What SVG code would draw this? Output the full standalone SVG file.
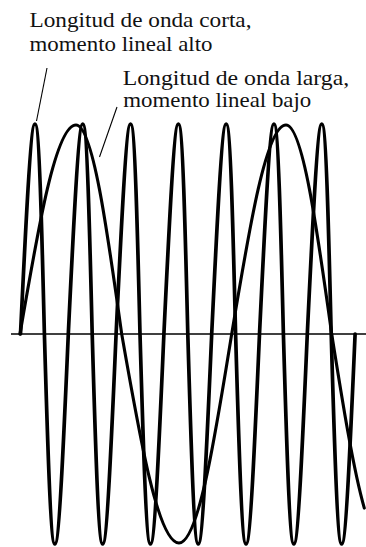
<svg xmlns="http://www.w3.org/2000/svg" width="366" height="547" viewBox="0 0 366 547">
<style>
.lbl{font-family:"Liberation Serif","Times New Roman",serif;font-size:21px;fill:#111}
.wave{fill:none;stroke:#000;stroke-linejoin:round;stroke-linecap:round}
.lead{fill:none;stroke:#000;stroke-width:1.1}
</style>
<rect width="366" height="547" fill="#fff"/>
<line id="axis" x1="11" y1="334" x2="366" y2="334" stroke="#000" stroke-width="1.3"/>
<g id="short-wave">
<path class="wave" stroke-width="3.7" d="M20.5,334
c5.18,-107.58 10.13,-210 14.45,-210 c4.33,0 6.83,102.42 9.45,210 c3.13,107.58 6.13,210 10.45,210 c4.33,0 8.79,-102.42 13.45,-210
c5.18,-107.58 10.13,-210 14.45,-210 c4.33,0 6.83,102.42 9.45,210 c3.13,107.58 6.13,210 10.45,210 c4.33,0 8.79,-102.42 13.45,-210
c5.18,-107.58 10.13,-210 14.45,-210 c4.33,0 6.83,102.42 9.45,210 c3.13,107.58 6.13,210 10.45,210 c4.33,0 8.79,-102.42 13.45,-210
c5.18,-107.58 10.13,-210 14.45,-210 c4.33,0 6.83,102.42 9.45,210 c3.13,107.58 6.13,210 10.45,210 c4.33,0 8.79,-102.42 13.45,-210
c5.18,-107.58 10.13,-210 14.45,-210 c4.33,0 6.83,102.42 9.45,210 c3.13,107.58 6.13,210 10.45,210 c4.33,0 8.79,-102.42 13.45,-210
c5.18,-107.58 10.13,-210 14.45,-210 c4.33,0 6.83,102.42 9.45,210 c3.13,107.58 6.13,210 10.45,210 c4.33,0 8.79,-102.42 13.45,-210
c5.18,-107.58 10.13,-210 14.45,-210 c4.33,0 6.83,102.42 9.45,210 c3.13,107.58 6.13,210 10.45,210 c4.33,0 8.79,-102.42 13.45,-210"/>
</g>
<g id="long-wave">
<path class="wave" stroke-width="3.1" d="M20,334
c18.26,-107.07 35.73,-209 56,-209
c16.54,0 30.8,101.93 45.7,209
c18.69,107.07 36.56,209 57.3,209
c19.07,0 35.51,-101.93 52.7,-209
c17.71,-107.07 34.65,-209 54.3,-209
c16.54,0 30.8,101.93 45.7,209
c10.86,68.6 21.75,136.2 32.6,174.1"/>
</g>
<g id="connectors">
<line class="lead" x1="47" y1="68" x2="36.5" y2="121"/>
<line class="lead" x1="117" y1="107" x2="99.5" y2="157"/>
</g>
<g id="label-short">
<text class="lbl" x="29.5" y="27" textLength="222" lengthAdjust="spacingAndGlyphs">Longitud de onda corta,</text>
<text class="lbl" x="29.5" y="50.7" textLength="183" lengthAdjust="spacingAndGlyphs">momento lineal alto</text>
</g>
<g id="label-long">
<text class="lbl" x="122.7" y="85" textLength="226.5" lengthAdjust="spacingAndGlyphs">Longitud de onda larga,</text>
<text class="lbl" x="123.3" y="107.3" textLength="188" lengthAdjust="spacingAndGlyphs">momento lineal bajo</text>
</g>
</svg>
